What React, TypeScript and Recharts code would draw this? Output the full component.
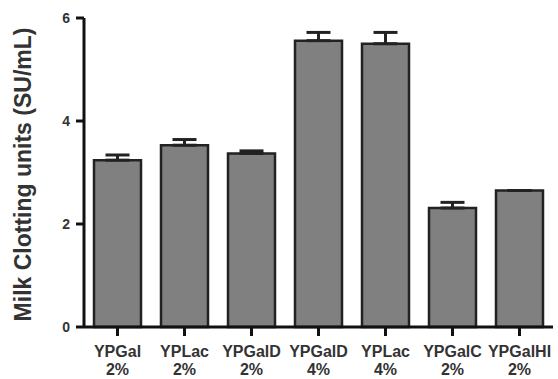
import React from 'react';
import { BarChart, Bar, XAxis, YAxis, ErrorBar } from 'recharts';

const sources = ['YPGal', 'YPLac', 'YPGalD', 'YPGalD', 'YPLac', 'YPGalC', 'YPGalHI'];
const concentrations = ['2%', '2%', '2%', '4%', '4%', '2%', '2%'];
const values = [3.24, 3.53, 3.37, 5.56, 5.5, 2.31, 2.65];
const errors = [0.1, 0.11, 0.05, 0.16, 0.22, 0.11, 0];
const yTicks = [0, 2, 4, 6];

const data = sources.map((s, i) => ({
  name: `${s} ${concentrations[i]}`,
  source: s,
  conc: concentrations[i],
  value: values[i],
  err: [0, errors[i]],
}));

const FONT = '"Liberation Sans", Arial, sans-serif';

const XTick = (props: any) => {
  const { x, y, payload } = props;
  const d = data[payload.index] || data.find((r) => r.name === payload.value);
  return (
    <g transform={`translate(${x},${y})`}>
      <text textAnchor="middle" fontFamily={FONT} fontWeight="bold" fontSize={16} fill="#333" x={0} y={19}>
        {d ? d.source : ''}
      </text>
      <text textAnchor="middle" fontFamily={FONT} fontWeight="bold" fontSize={16} fill="#333" x={0} y={37}>
        {d ? d.conc : ''}
      </text>
    </g>
  );
};

export default function App() {
  return (
    <div style={{ position: 'fixed', left: 0, top: 0, background: '#fff' }}>
      <BarChart
        width={558}
        height={379}
        data={data}
        margin={{ top: 18, right: 5, bottom: 0, left: 0 }}
        barCategoryGap={10}
      >
        <XAxis
          dataKey="name"
          height={52}
          interval={0}
          axisLine={{ stroke: '#111', strokeWidth: 3 }}
          tickLine={{ stroke: '#111', strokeWidth: 3 }}
          tickSize={9}
          tick={<XTick />}
        />
        <YAxis
          width={84}
          domain={[0, 6]}
          ticks={yTicks}
          interval={0}
          axisLine={{ stroke: '#111', strokeWidth: 3 }}
          tickLine={{ stroke: '#111', strokeWidth: 3 }}
          tickSize={8}
          tickMargin={6}
          tick={{ fontFamily: FONT, fontWeight: 'bold', fontSize: 14, fill: '#333' }}
          label={{
            value: 'Milk Clotting units (SU/mL)',
            angle: -90,
            position: 'insideLeft',
            dx: 18,
            dy: 2,
            style: { fontFamily: FONT, fontWeight: 'bold', fontSize: 23, fill: '#333', textAnchor: 'middle' },
          }}
        />
        <Bar dataKey="value" fill="#808080" stroke="#222" strokeWidth={2.5} isAnimationActive={false}>
          <ErrorBar dataKey="err" width={12} stroke="#222" strokeWidth={3} direction="y" />
        </Bar>
      </BarChart>
    </div>
  );
}
